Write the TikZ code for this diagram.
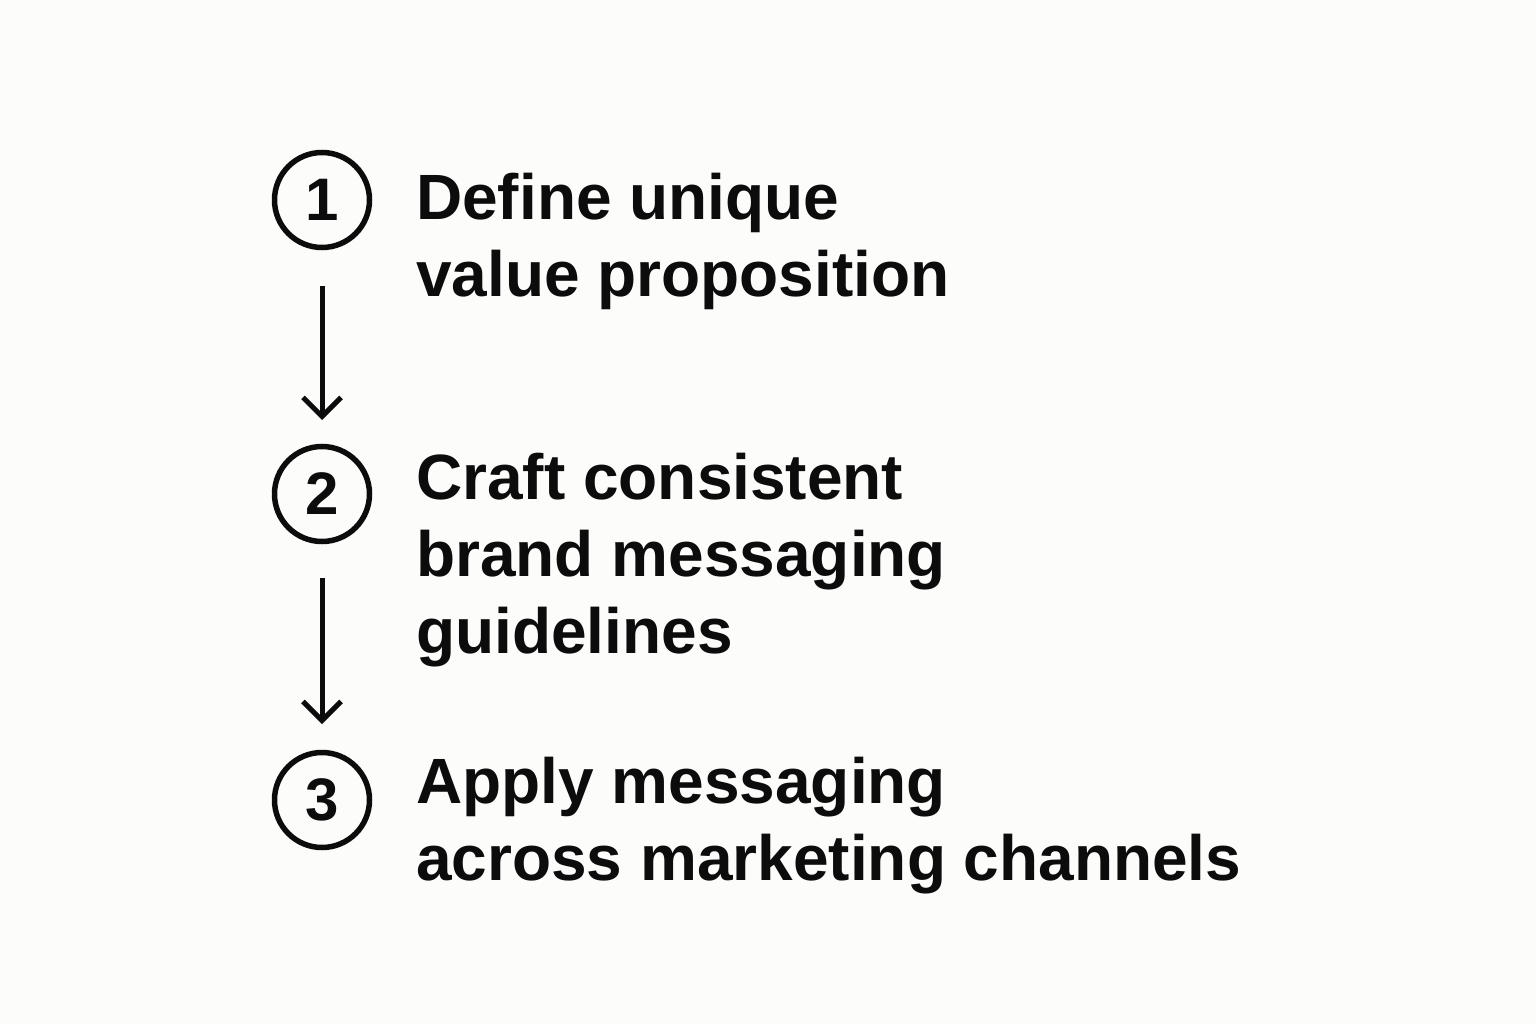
\documentclass[tikz,border=0pt]{standalone}
\usepackage{fontspec}
\setmainfont{Liberation Sans}
\usetikzlibrary{arrows.meta}
\definecolor{bg}{RGB}{252,252,250}
\definecolor{ink}{RGB}{12,12,12}
\begin{document}
\begin{tikzpicture}[x=1pt,y=-1pt,
  numc/.style={circle,draw=ink,line width=5.5pt,minimum size=95pt,inner sep=0pt,
    font=\fontsize{60}{60}\selectfont\bfseries,text=ink},
  steptext/.style={anchor=base west,inner sep=0pt,align=left,text=ink,
    font=\fontsize{64}{77}\selectfont\bfseries},
  flow/.style={draw=ink,line width=5pt,-{Straight Barb[length=19pt,width=38pt,line width=5pt]}}]
\fill[bg] (0,0) rectangle (1536,1024);
\useasboundingbox (0,0) rectangle (1536,1024);
\node[numc] (c1) at (322,200) {1};
\node[numc] (c2) at (322,494) {2};
\node[numc] (c3) at (322,800) {3};
\node[steptext] (t1) at (416,296) {Define unique\\value proposition};
\node[steptext] (t2) at (416,653) {Craft consistent\\brand messaging\\guidelines};
\node[steptext] (t3) at (416,880) {Apply messaging\\across marketing channels};
\coordinate (a1s) at (322,286);
\coordinate (a1e) at (322,420);
\coordinate (a2s) at (322,578);
\coordinate (a2e) at (322,724);
\draw[flow] (a1s) -- (a1e);
\draw[flow] (a2s) -- (a2e);
\end{tikzpicture}
\end{document}
